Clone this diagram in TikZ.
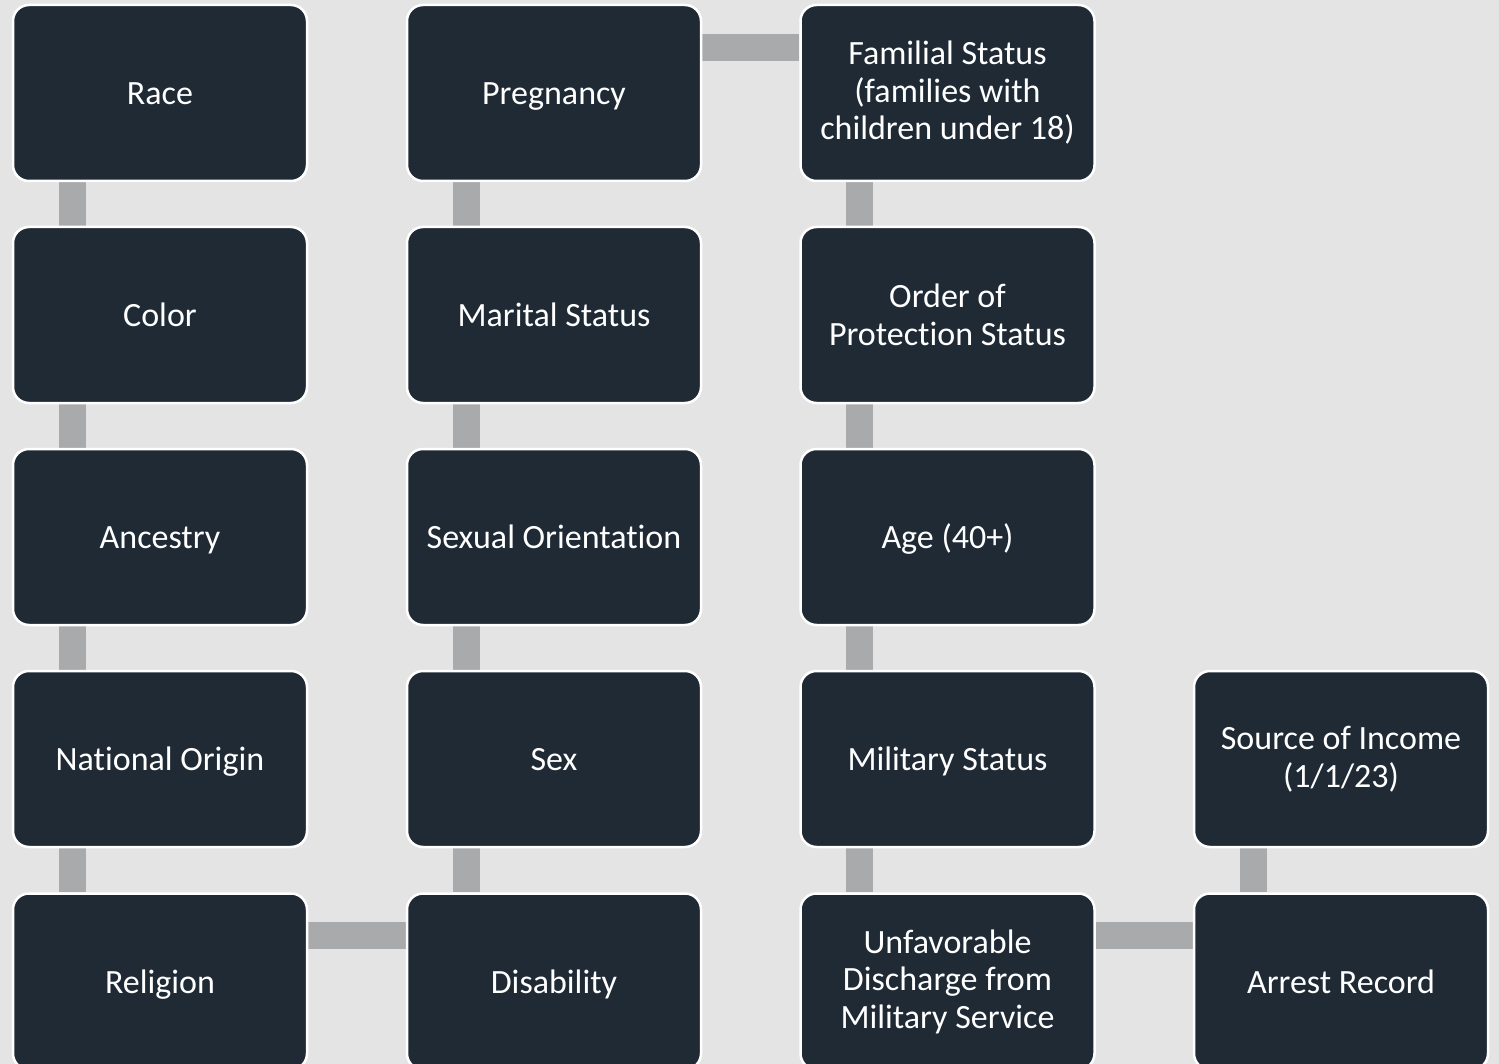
\documentclass[tikz,border=0pt]{standalone}
\usepackage{fontspec}
\setmainfont{Carlito}[Ligatures={CommonOff,ContextualOff},Contextuals=AlternateOff]
\usetikzlibrary{backgrounds}
\definecolor{boxfill}{RGB}{31,42,53}
\definecolor{bgc}{RGB}{228,228,228}
\definecolor{barc}{RGB}{169,170,172}
\newcommand{\brk}{\kern0pt\relax}
\tikzset{
  item/.style={draw=white, line width=2.5pt, fill=boxfill, rounded corners=16pt,
    minimum width=294pt, minimum height=176pt, text=white, align=center,
    inner sep=0pt, font=\fontsize{34}{37.5}\selectfont},
  one/.style={item, text height=23.5pt, text depth=0pt},
  bar/.style={draw=barc, line width=27pt}
}
\begin{document}
\begin{tikzpicture}[x=1pt,y=-1pt]
\useasboundingbox (0,0) rectangle (1499,1064);
\clip (0,0) rectangle (1499,1064);
% column 1
\node[one] (race) at (160,93) {Race};
\node[one] (color) at (160,315) {Color};
\node[one] (ancestry) at (160,537) {Ancestry};
\node[one] (natorig) at (160,759) {Nat\brk ional Origin};
\node[one] (religion) at (160,981.5) {Religion};
% column 2
\node[one] (pregnancy) at (554,93) {Pregnancy};
\node[one] (marital) at (554,315) {Marital Status};
\node[one] (sexor) at (554,537) {Sexual Orientat\brk ion};
\node[one] (sex) at (554,759) {Sex};
\node[one] (disability) at (554,981.5) {Disability};
% column 3
\node[item] (familial) at (947.5,93) {Familial Status\\(famil\brk ies with\\children under 18)};
\node[item] (order) at (947.5,315) {Order of\\Protect\brk ion Status};
\node[one] (age) at (947.5,537) {Age (40+)};
\node[one] (military) at (947.5,759) {Military Status};
\node[item] (unfav) at (947.5,981.5) {Unfavorable\\Discharge from\\Military Service};
% column 4
\node[item] (income) at (1341,759) {Source of Income\\(1/1/23)};
\node[one] (arrest) at (1341,981.5) {Arrest Record};
\begin{scope}[on background layer]
\fill[bgc] (0,0) rectangle (1499,1064);
\foreach \a/\b in {race/color,color/ancestry,ancestry/natorig,natorig/religion,
  pregnancy/marital,marital/sexor,sexor/sex,sex/disability,
  familial/order,order/age,age/military,military/unfav,income/arrest}{
  \draw[bar] ([xshift=60.5pt]\a.south west) -- ([xshift=60.5pt]\b.north west);
}
\draw[bar] ([yshift=-44pt]pregnancy.north east) -- ([yshift=-44pt]familial.north west);
\draw[bar] ([yshift=-43pt]religion.north east) -- ([yshift=-43pt]disability.north west);
\draw[bar] ([yshift=-43pt]unfav.north east) -- ([yshift=-43pt]arrest.north west);
\end{scope}
\end{tikzpicture}
\end{document}
